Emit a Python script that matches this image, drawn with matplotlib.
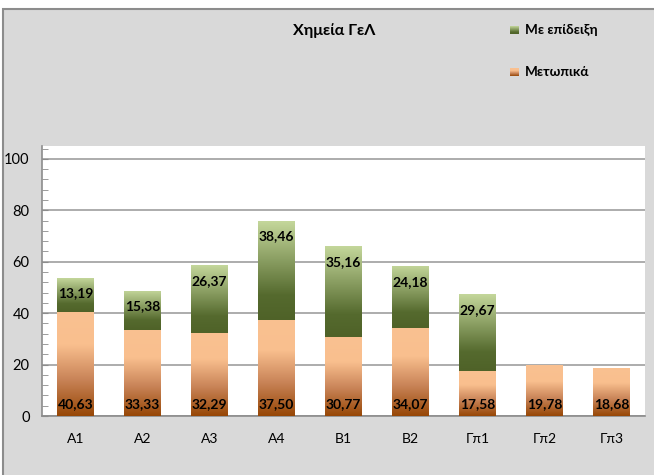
import matplotlib
matplotlib.use("Agg")
import matplotlib.pyplot as plt
import numpy as np
from matplotlib.colors import LinearSegmentedColormap
from matplotlib.patches import Rectangle

categories = ["A1", "A2", "A3", "A4", "B1", "B2", "Γπ1", "Γπ2", "Γπ3"]
metopika = [40.63, 33.33, 32.29, 37.50, 30.77, 34.07, 17.58, 19.78, 18.68]
epideixi = [13.19, 15.38, 26.37, 38.46, 35.16, 24.18, 29.67, 0, 0]
series_names = ["Με επίδειξη", "Μετωπικά"]
title = "Χημεία ΓεΛ"
yticks = [0, 20, 40, 60, 80, 100]

plt.rcParams['font.family'] = ['Lato', 'DejaVu Sans']

W, H = 654, 475
fig = plt.figure(figsize=(W / 100, H / 100), dpi=100)
fig.patch.set_facecolor("white")

# chart area background with border
bg = Rectangle((3 / W, -0.1), 1.1, 1 - 9 / H + 0.1, transform=fig.transFigure,
               facecolor="#D9D9D9", edgecolor="#8C8C8C", linewidth=1.5, zorder=-10)
fig.patches.append(bg)

ax = fig.add_axes([42 / W, (H - 416) / H, (645 - 42) / W, (416 - 146) / H])
ax.set_facecolor("white")

orange_cmap = LinearSegmentedColormap.from_list(
    "or", [(0, "#974706"), (0.35, "#C98458"), (0.68, "#F9BF8E"), (1, "#FAC191")])
green_cmap = LinearSegmentedColormap.from_list(
    "gr", [(0, "#4F6228"), (0.25, "#556A2E"), (1, "#C4D79B")])

x = np.arange(len(categories))
width = 0.55
b1 = ax.bar(x, metopika, width, color="none", edgecolor="none", zorder=3)
b2 = ax.bar(x, epideixi, width, bottom=metopika, color="none", edgecolor="none", zorder=3)

grad = np.linspace(0, 1, 256).reshape(-1, 1)
for bars, cmap in ((b1, orange_cmap), (b2, green_cmap)):
    for p in bars:
        h = p.get_height()
        if h <= 0:
            continue
        x0, y0 = p.get_x(), p.get_y()
        im = ax.imshow(grad, cmap=cmap, origin="lower", aspect="auto",
                       extent=[x0, x0 + p.get_width(), y0, y0 + h],
                       zorder=3, interpolation="bilinear")
        im.set_clip_path(p)

fmt = lambda v: f"{v:.2f}".replace(".", ",")
for i, v in enumerate(metopika):
    ax.text(x[i], 3.0, fmt(v), ha="center", va="baseline", fontsize=10,
            fontweight="bold", color="black", zorder=5)
for i, v in enumerate(epideixi):
    if v > 0:
        ax.text(x[i], metopika[i] + v - 6, fmt(v), ha="center", va="center",
                fontsize=10, fontweight="bold", color="black", zorder=5)

ax.set_xlim(-0.5, len(categories) - 0.5)
ax.set_ylim(0, 105)
ax.set_yticks(yticks)
ax.set_yticks(np.arange(0, 105, 4), minor=True)
ax.yaxis.grid(True, which="major", color="#A6A6A6", linewidth=1.3, zorder=1)
ax.set_axisbelow(True)
ax.tick_params(axis="y", which="both", direction="in", length=4, color="#8C8C8C",
               labelsize=10.5, pad=9)
ax.tick_params(axis="x", length=0, labelsize=10, pad=12)
ax.set_xticks(x)
ax.set_xticklabels(categories)
for s in ("top", "right"):
    ax.spines[s].set_visible(False)
for s in ("left", "bottom"):
    ax.spines[s].set_color("#8C8C8C")
    ax.spines[s].set_linewidth(1.2)

fig.text(334 / W, 1 - 31 / H, title, ha="center", va="center",
         fontsize=11.5, fontweight="bold")

# legend
for j, (name, cmap, yc) in enumerate(((series_names[0], green_cmap, 30),
                                      (series_names[1], orange_cmap, 72))):
    lax = fig.add_axes([510 / W, 1 - (yc + 4) / H, 9 / W, 8 / H])
    lax.imshow(grad, cmap=cmap, origin="lower", aspect="auto")
    lax.axis("off")
    fig.text(525 / W, 1 - yc / H, name, ha="left", va="center",
             fontsize=9.8, fontweight="bold")

fig.savefig("out.png", dpi=100, facecolor=fig.get_facecolor())
